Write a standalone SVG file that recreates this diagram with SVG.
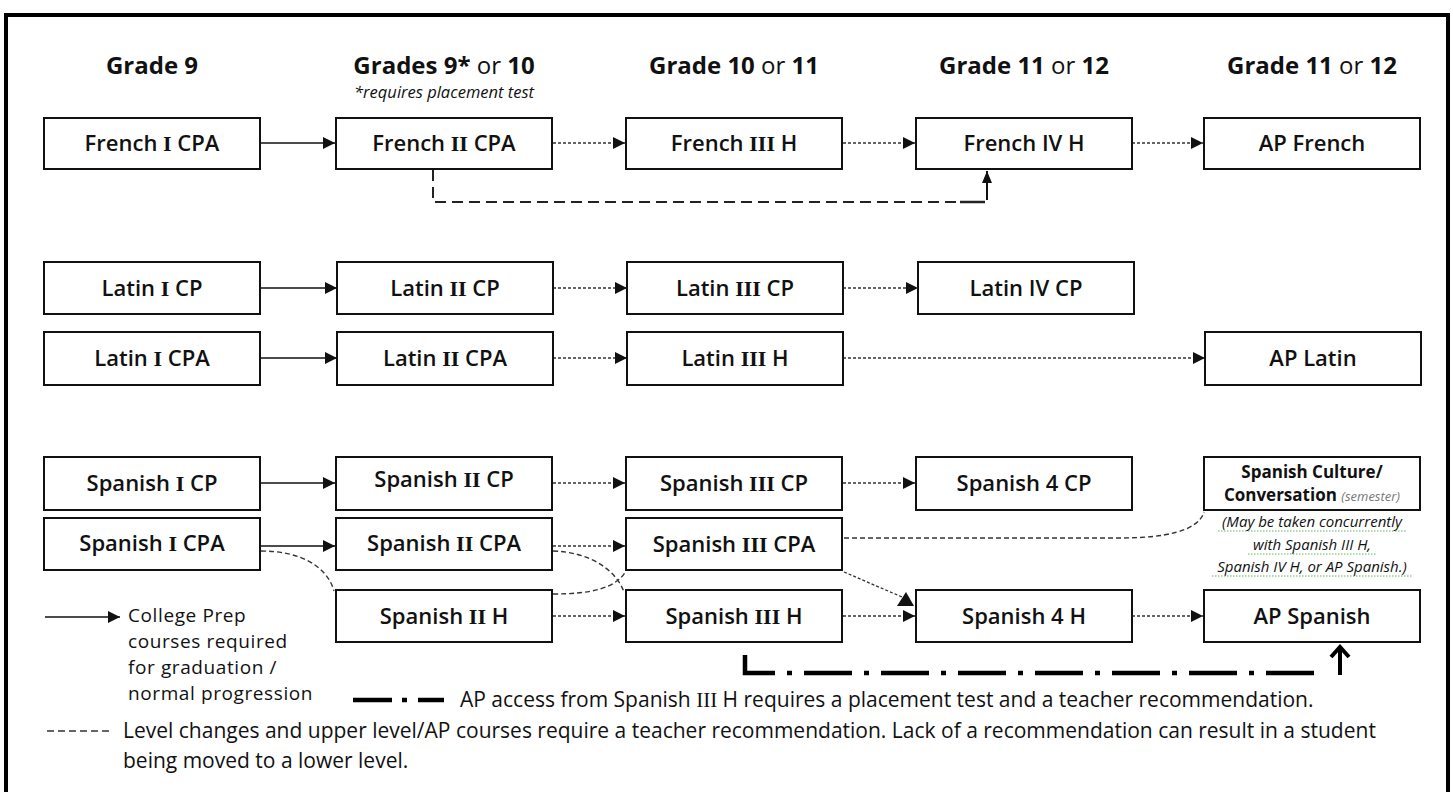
<svg xmlns="http://www.w3.org/2000/svg" width="1453" height="792" viewBox="0 0 1453 792">
<style>
text{font-family:"Open Sans","Noto Sans","DejaVu Sans",sans-serif;fill:#111}
.hd{font-size:24px;font-weight:700;text-anchor:middle}
.rg{font-weight:400}
.box{fill:#fff;stroke:#111;stroke-width:2}
.lbl{font-size:22px;font-weight:600;text-anchor:middle}
.rn{font-family:"Liberation Serif","DejaVu Serif",serif;font-weight:700}
.rnr{font-family:"Liberation Serif","DejaVu Serif",serif;font-weight:400}
.solid{stroke:#111;stroke-width:1.6;fill:none}
.dot{stroke:#333;stroke-width:1.3;stroke-dasharray:3 2;fill:none}
.dash{stroke:#333;stroke-width:1.4;stroke-dasharray:5 3;fill:none}
.lg{font-size:21px}
.lgs{font-size:19px;letter-spacing:0.6px}
.note{font-size:15px;font-style:italic;text-anchor:middle}
.wavy{stroke:#5cb85c;stroke-width:1.2;stroke-dasharray:1.5 1.5;fill:none}
</style>
<defs>
<marker id="ah" markerUnits="userSpaceOnUse" markerWidth="12" markerHeight="12" refX="12" refY="6" orient="auto">
<path d="M0,0 L12,6 L0,12 z" fill="#111"/>
</marker>
<marker id="ahs" markerUnits="userSpaceOnUse" markerWidth="10" markerHeight="12" refX="12" refY="5" orient="auto">
<path d="M0,0 L12,5 L0,10 z" fill="#111"/>
</marker>
</defs>
<rect x="6" y="15" width="1442" height="790" fill="#fff" stroke="#000" stroke-width="4"/>

<g id="headers">
<text class="hd" x="152" y="74">Grade 9</text>
<text class="hd" x="444" y="74">Grades 9*<tspan class="rg"> or </tspan>10</text>
<text x="444" y="98" font-size="16.5" font-style="italic" text-anchor="middle">*requires placement test</text>
<text class="hd" x="734" y="74">Grade 10<tspan class="rg"> or </tspan>11</text>
<text class="hd" x="1024" y="74">Grade 11<tspan class="rg"> or </tspan>12</text>
<text class="hd" x="1312" y="74">Grade 11<tspan class="rg"> or </tspan>12</text>
</g>

<g id="connectors">
<line class="solid" x1="261" y1="143" x2="335" y2="143" marker-end="url(#ah)"/>
<line class="dot" x1="553" y1="143" x2="625" y2="143" marker-end="url(#ah)"/>
<line class="dot" x1="843" y1="143" x2="915" y2="143" marker-end="url(#ah)"/>
<line class="dot" x1="1132" y1="143" x2="1203" y2="143" marker-end="url(#ah)"/>
<path d="M433,170 V202 H962" fill="none" stroke="#222" stroke-width="2" stroke-dasharray="11 6"/>
<line x1="960" y1="202" x2="985" y2="202" stroke="#222" stroke-width="2.5"/>
<line x1="987" y1="200" x2="987" y2="171" stroke="#111" stroke-width="2" marker-end="url(#ahs)"/>
<line class="solid" x1="261" y1="288" x2="337" y2="288" marker-end="url(#ah)"/>
<line class="dot" x1="553" y1="288" x2="627" y2="288" marker-end="url(#ah)"/>
<line class="dot" x1="843" y1="288" x2="918" y2="288" marker-end="url(#ah)"/>
<line class="solid" x1="261" y1="358" x2="337" y2="358" marker-end="url(#ah)"/>
<line class="dot" x1="553" y1="358" x2="627" y2="358" marker-end="url(#ah)"/>
<line class="dot" x1="843" y1="358" x2="1205" y2="358" marker-end="url(#ah)"/>
<line class="solid" x1="261" y1="483" x2="335" y2="483" marker-end="url(#ah)"/>
<line class="dot" x1="553" y1="483" x2="625" y2="483" marker-end="url(#ah)"/>
<line class="dot" x1="843" y1="483" x2="915" y2="483" marker-end="url(#ah)"/>
<line class="solid" x1="261" y1="546" x2="335" y2="546" marker-end="url(#ah)"/>
<line class="dot" x1="553" y1="546" x2="625" y2="546" marker-end="url(#ah)"/>
<path class="dash" d="M261,551 C300,551 327,566 334,591"/>
<path class="dash" d="M553,551 C590,552 616,570 624,592"/>
<path class="dash" d="M553,594 C592,594 616,588 626,571"/>
<path class="dash" d="M844,538 H1120 C1162,538 1198,532 1204,512"/>
<line class="dot" x1="844" y1="572" x2="902" y2="597"/>
<polygon points="906,592 897,606 914,606" fill="#111"/>
<line class="dot" x1="553" y1="616" x2="625" y2="616" marker-end="url(#ah)"/>
<line class="dot" x1="843" y1="616" x2="915" y2="616" marker-end="url(#ah)"/>
<line class="dot" x1="1132" y1="616" x2="1203" y2="616" marker-end="url(#ah)"/>
<path d="M745,655 V673 H1326" fill="none" stroke="#000" stroke-width="4.5" stroke-dasharray="48 12 5 12"/>
<line x1="1340" y1="675" x2="1340" y2="648" stroke="#000" stroke-width="4"/>
<path d="M1331,657 L1340,647 L1349,657" fill="none" stroke="#000" stroke-width="4"/>
</g>

<g id="french-1"><rect class="box" x="44" y="118" width="216" height="51"/><text class="lbl" x="152" y="151">French <tspan class="rn">I</tspan> CPA</text></g>
<g id="french-2"><rect class="box" x="336" y="118" width="216" height="51"/><text class="lbl" x="444" y="151">French <tspan class="rn">II</tspan> CPA</text></g>
<g id="french-3"><rect class="box" x="626" y="118" width="216" height="51"/><text class="lbl" x="734" y="151">French <tspan class="rn">III</tspan> H</text></g>
<g id="french-4"><rect class="box" x="916" y="118" width="216" height="51"/><text class="lbl" x="1024" y="151">French IV H</text></g>
<g id="ap-french"><rect class="box" x="1204" y="118" width="216" height="51"/><text class="lbl" x="1312" y="151">AP French</text></g>

<g id="latin-1-cp"><rect class="box" x="44" y="262" width="216" height="52"/><text class="lbl" x="152" y="296">Latin <tspan class="rn">I</tspan> CP</text></g>
<g id="latin-2-cp"><rect class="box" x="337" y="262" width="216" height="52"/><text class="lbl" x="445" y="296">Latin <tspan class="rn">II</tspan> CP</text></g>
<g id="latin-3-cp"><rect class="box" x="627" y="262" width="216" height="52"/><text class="lbl" x="735" y="296">Latin <tspan class="rn">III</tspan> CP</text></g>
<g id="latin-4-cp"><rect class="box" x="918" y="262" width="216" height="52"/><text class="lbl" x="1026" y="296">Latin IV CP</text></g>
<g id="latin-1-cpa"><rect class="box" x="44" y="332" width="216" height="53"/><text class="lbl" x="152" y="366">Latin <tspan class="rn">I</tspan> CPA</text></g>
<g id="latin-2-cpa"><rect class="box" x="337" y="332" width="216" height="53"/><text class="lbl" x="445" y="366">Latin <tspan class="rn">II</tspan> CPA</text></g>
<g id="latin-3-h"><rect class="box" x="627" y="332" width="216" height="53"/><text class="lbl" x="735" y="366">Latin <tspan class="rn">III</tspan> H</text></g>
<g id="ap-latin"><rect class="box" x="1205" y="332" width="216" height="53"/><text class="lbl" x="1313" y="366">AP Latin</text></g>

<g id="spanish-1-cp"><rect class="box" x="44" y="457" width="216" height="53"/><text class="lbl" x="152" y="491">Spanish <tspan class="rn">I</tspan> CP</text></g>
<g id="spanish-2-cp"><rect class="box" x="336" y="457" width="216" height="53"/><text class="lbl" x="444" y="487">Spanish <tspan class="rn">II</tspan> CP</text></g>
<g id="spanish-3-cp"><rect class="box" x="626" y="457" width="216" height="53"/><text class="lbl" x="734" y="491">Spanish <tspan class="rn">III</tspan> CP</text></g>
<g id="spanish-4-cp"><rect class="box" x="916" y="457" width="216" height="53"/><text class="lbl" x="1024" y="491">Spanish 4 CP</text></g>
<g id="spanish-culture">
<rect class="box" x="1204" y="457" width="216" height="53"/>
<text x="1312" y="478" font-size="17" font-weight="700" text-anchor="middle">Spanish Culture/</text>
<text x="1312" y="501" font-size="17" font-weight="700" text-anchor="middle">Conversation <tspan font-size="13" font-weight="400" font-style="italic" fill="#777">(semester)</tspan></text>
<text class="note" x="1312" y="527">(May be taken concurrently</text>
<text class="note" x="1312" y="550">with Spanish III H,</text>
<text class="note" x="1312" y="572">Spanish IV H, or AP Spanish.)</text>
<path class="wavy" d="M1218,531 H1406 M1248,554 H1376 M1212,576 H1412"/>
</g>
<g id="spanish-1-cpa"><rect class="box" x="44" y="518" width="216" height="52"/><text class="lbl" x="152" y="551">Spanish <tspan class="rn">I</tspan> CPA</text></g>
<g id="spanish-2-cpa"><rect class="box" x="336" y="518" width="216" height="52"/><text class="lbl" x="444" y="551">Spanish <tspan class="rn">II</tspan> CPA</text></g>
<g id="spanish-3-cpa"><rect class="box" x="626" y="518" width="216" height="52"/><text class="lbl" x="734" y="552">Spanish <tspan class="rn">III</tspan> CPA</text></g>
<g id="spanish-2-h"><rect class="box" x="336" y="590" width="216" height="52"/><text class="lbl" x="444" y="624">Spanish <tspan class="rn">II</tspan> H</text></g>
<g id="spanish-3-h"><rect class="box" x="626" y="590" width="216" height="52"/><text class="lbl" x="734" y="624">Spanish <tspan class="rn">III</tspan> H</text></g>
<g id="spanish-4-h"><rect class="box" x="916" y="590" width="216" height="52"/><text class="lbl" x="1024" y="624">Spanish 4 H</text></g>
<g id="ap-spanish"><rect class="box" x="1204" y="590" width="216" height="52"/><text class="lbl" x="1312" y="624">AP Spanish</text></g>

<g id="legend">
<line class="solid" x1="45" y1="617" x2="120" y2="617" marker-end="url(#ah)"/>
<text class="lgs" x="128" y="622">College Prep</text>
<text class="lgs" x="128" y="648">courses required</text>
<text class="lgs" x="128" y="674">for graduation /</text>
<text class="lgs" x="128" y="700">normal progression</text>
<line x1="353" y1="700" x2="392" y2="700" stroke="#000" stroke-width="4.5"/>
<line x1="402" y1="700" x2="407" y2="700" stroke="#000" stroke-width="4.5"/>
<line x1="418" y1="700" x2="444" y2="700" stroke="#000" stroke-width="4.5"/>
<text class="lg" x="460" y="707">AP access from Spanish <tspan class="rnr">III</tspan> H requires a placement test and a teacher recommendation.</text>
<line x1="47" y1="731" x2="112" y2="731" stroke="#333" stroke-width="1.5" stroke-dasharray="7 4"/>
<text class="lg" x="123" y="738">Level changes and upper level/AP courses require a teacher recommendation. Lack of a recommendation can result in a student</text>
<text class="lg" x="123" y="768">being moved to a lower level.</text>
</g>
</svg>
